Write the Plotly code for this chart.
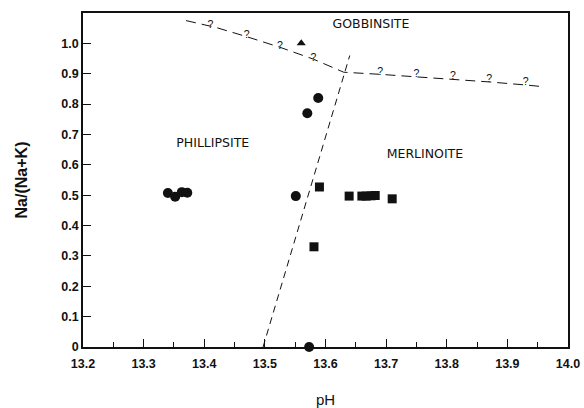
import plotly.graph_objects as go

# ---- data ----
phil_ph = [13.340, 13.352, 13.363, 13.372, 13.551, 13.570, 13.588, 13.573]
phil_na = [0.507, 0.495, 0.510, 0.508, 0.497, 0.770, 0.820, 0.000]

merl_ph = [13.590, 13.581, 13.639, 13.660, 13.667, 13.675, 13.682, 13.710]
merl_na = [0.527, 0.330, 0.497, 0.497, 0.497, 0.498, 0.499, 0.488]

gobb_ph = [13.560]
gobb_na = [1.000]

boundary_ph = [13.497, 13.640]
boundary_na = [0.000, 0.960]

curve_ph = [13.370, 13.420, 13.470, 13.525, 13.580, 13.630, 13.690, 13.750, 13.810, 13.870, 13.930, 13.960]
curve_na = [1.075, 1.052, 1.022, 0.987, 0.948, 0.905, 0.898, 0.890, 0.882, 0.873, 0.863, 0.857]

q_ph = [13.410, 13.470, 13.525, 13.580, 13.690, 13.750, 13.810, 13.870, 13.930]
q_na = [1.058, 1.025, 0.990, 0.950, 0.905, 0.898, 0.890, 0.881, 0.872]

region_names = ["PHILLIPSITE", "MERLINOITE", "GOBBINSITE"]
region_ph = [13.414, 13.764, 13.675]
region_na = [0.668, 0.633, 1.061]

x_ticks = [13.2, 13.3, 13.4, 13.5, 13.6, 13.7, 13.8, 13.9, 14.0]
x_ticktext = ["13.2", "13.3", "13.4", "13.5", "13.6", "13.7", "13.8", "13.9", "14.0"]
y_ticks = [0, 0.1, 0.2, 0.3, 0.4, 0.5, 0.6, 0.7, 0.8, 0.9, 1.0]
y_ticktext = ["0", "0.1", "0.2", "0.3", "0.4", "0.5", "0.6", "0.7", "0.8", "0.9", "1.0"]

INK = "#111111"
FONT = "Liberation Sans, Arial, sans-serif"

fig = go.Figure()

fig.add_trace(go.Scatter(x=curve_ph, y=curve_na, mode="lines",
                         line=dict(color=INK, width=1, dash="10px,6px"),
                         hoverinfo="skip", cliponaxis=False))
fig.add_trace(go.Scatter(x=q_ph, y=q_na, mode="text", text=["?"] * len(q_ph),
                         textfont=dict(family=FONT, size=10.5, color=INK),
                         hoverinfo="skip", cliponaxis=False))
fig.add_trace(go.Scatter(x=boundary_ph, y=boundary_na, mode="lines",
                         line=dict(color=INK, width=1, dash="7px,5px"),
                         hoverinfo="skip", cliponaxis=False))

fig.add_trace(go.Scatter(x=phil_ph, y=phil_na, mode="markers",
                         marker=dict(symbol="circle", size=10, color=INK),
                         cliponaxis=False))
fig.add_trace(go.Scatter(x=merl_ph, y=merl_na, mode="markers",
                         marker=dict(symbol="square", size=9, color=INK),
                         cliponaxis=False))
fig.add_trace(go.Scatter(x=gobb_ph, y=gobb_na, mode="markers",
                         marker=dict(symbol="triangle-up", size=8, color=INK),
                         cliponaxis=False))

fig.add_trace(go.Scatter(x=region_ph, y=region_na, mode="text", text=region_names,
                         textfont=dict(family="DejaVu Sans, sans-serif", size=12.5, color=INK),
                         hoverinfo="skip", cliponaxis=False))

fig.update_layout(
    width=584, height=408,
    margin=dict(l=83, r=16, t=13, b=61),
    paper_bgcolor="white", plot_bgcolor="white",
    showlegend=False,
    font=dict(family=FONT, color=INK, size=12),
)

fig.update_xaxes(
    range=[13.2, 14.0], tickvals=x_ticks, ticktext=x_ticktext,
    showgrid=False, zeroline=False, automargin=False,
    showline=True, linecolor=INK, linewidth=2, mirror=True,
    ticks="inside", ticklen=8, tickwidth=1, tickcolor=INK,
    minor=dict(dtick=0.05, tick0=13.2, ticks="inside", ticklen=5, tickwidth=1, tickcolor=INK, showgrid=False),
    tickfont=dict(family=FONT, size=12.5, color=INK, weight="bold"),
    ticklabelstandoff=4,
    title=dict(text="pH", font=dict(family=FONT, size=15, color=INK), standoff=28),
)
fig.update_yaxes(
    range=[0, 1.1], tickvals=y_ticks, ticktext=y_ticktext,
    showgrid=False, zeroline=False, automargin=False,
    showline=True, linecolor=INK, linewidth=1.5, mirror=True,
    ticks="inside", ticklen=8, tickwidth=1, tickcolor=INK,
    tickfont=dict(family=FONT, size=12.5, color=INK, weight="bold"),
    title=dict(text="<b>Na/(Na+K)</b>", font=dict(family=FONT, size=16, color=INK), standoff=30),
)

fig.write_html("out.html", config={"displayModeBar": False},
               post_script="document.body.style.margin='0';")
